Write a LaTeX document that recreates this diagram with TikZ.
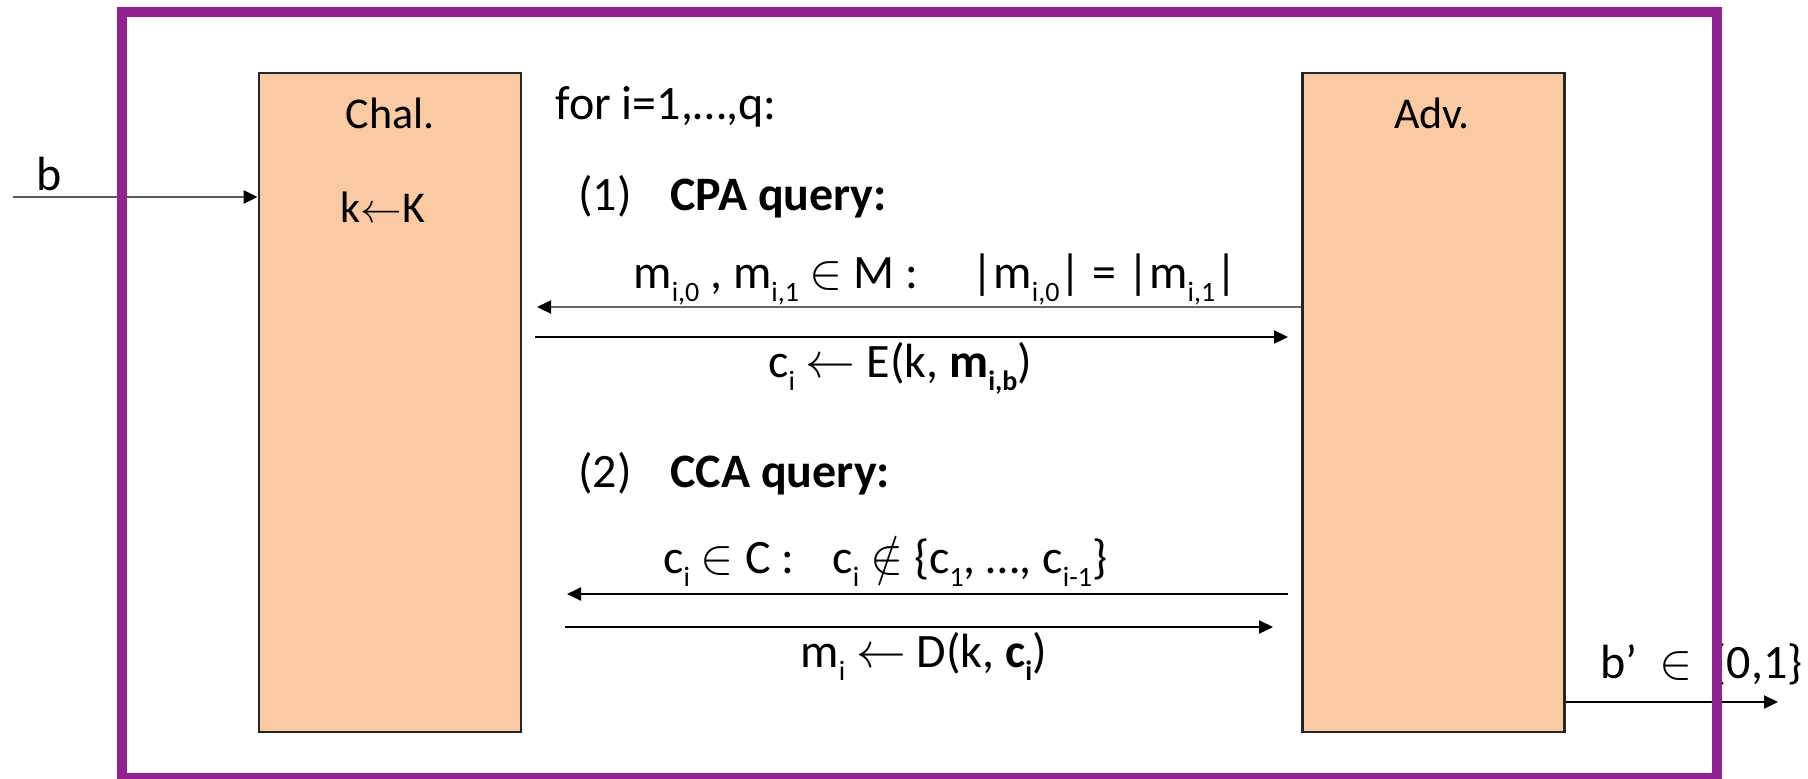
\documentclass[tikz,border=0pt]{standalone}
\usepackage{fontspec}
\setmainfont{Carlito}
\usetikzlibrary{arrows.meta,calc}
\definecolor{framepurple}{RGB}{148,33,145}
\definecolor{peach}{RGB}{250,202,162}
\newcommand{\lo}[1]{\raisebox{-0.28em}{\fontsize{14}{16}\selectfont #1}}
\begin{document}
\begin{tikzpicture}[x=0.5pt,y=-0.5pt,
  box/.style={draw=black!85, line width=1.4pt, fill=peach, minimum width=131pt, minimum height=329.5pt, inner sep=0pt},
  arr/.style={-{Triangle[length=7pt,width=6.5pt,color=black]}, line width=1.1pt},
  txt/.style={anchor=base west, inner sep=0pt, font=\fontsize{24}{28}\selectfont},
  btxt/.style={txt, font=\fontsize{24}{28}\selectfont\bfseries},
  lbl/.style={anchor=base, inner sep=0pt, font=\fontsize{22}{26}\selectfont}]
\useasboundingbox (0,0) rectangle (1808,778);
% boxes
\node[box] (chal) at (390,402.5) {};
\node[box] (adv) at (1433.5,402.5) {};
\node[lbl] (chalname) at (390,128) {Chal.};
\node[lbl] (key) at (383,222) {k$\leftarrow$K};
\node[lbl] (advname) at (1432,128) {Adv.};
% texts
\node[txt] (loop) at (555,119) {for i=1,…,q:};
\node[txt] (n1) at (578,210) {(1)};
\node[btxt] (cpa) at (670,210) {CPA query:};
\node[txt] (q1txt) at (633,288) {m\lo{i,0} , m\lo{i,1} $\in$ M :\hspace{1.1em}|m\lo{i,0}| = |m\lo{i,1}|};
\node[txt] (r1txt) at (768,377) {c\lo{i} $\leftarrow$ E(k, \textbf{m\lo{i,b}})};
\node[txt] (n2) at (578,487) {(2)};
\node[btxt] (cca) at (670,487) {CCA query:};
\node[txt] (q2txt) at (663,573) {c\lo{i} $\in$ C :\hspace{0.8em}c\lo{i} $\notin$ \{c\lo{1}, …, c\lo{i-1}\}};
\node[txt] (r2txt) at (800,667) {m\lo{i} $\leftarrow$ D(k, \textbf{c\lo{i}})};
\node[txt] (bin) at (36,190) {b};
\node[txt] (bout) at (1600,678) {b’\hspace{0.45em}$\in$\hspace{0.4em}\{0,1\}};
% connectors
\coordinate (bstart) at (13,197);
\draw[arr, draw=black!65] (bstart) -- (chal.west |- bstart);
\coordinate (q1end) at (537,307);
\draw[arr, draw=black!60] (adv.west |- q1end) -- (q1end);
\coordinate (r1s) at (535,337);
\coordinate (r1e) at (1288,337);
\draw[arr] (r1s) -- (r1e);
\coordinate (q2s) at (1288,594);
\coordinate (q2e) at (567,594);
\draw[arr] (q2s) -- (q2e);
\coordinate (r2s) at (565,627);
\coordinate (r2e) at (1273,627);
\draw[arr] (r2s) -- (r2e);
\coordinate (outend) at (1778,702);
\draw[arr] (adv.east |- outend) -- (outend);
% frame
\draw[framepurple, line width=5pt] (122,12) rectangle (1717,778);
\end{tikzpicture}
\end{document}
